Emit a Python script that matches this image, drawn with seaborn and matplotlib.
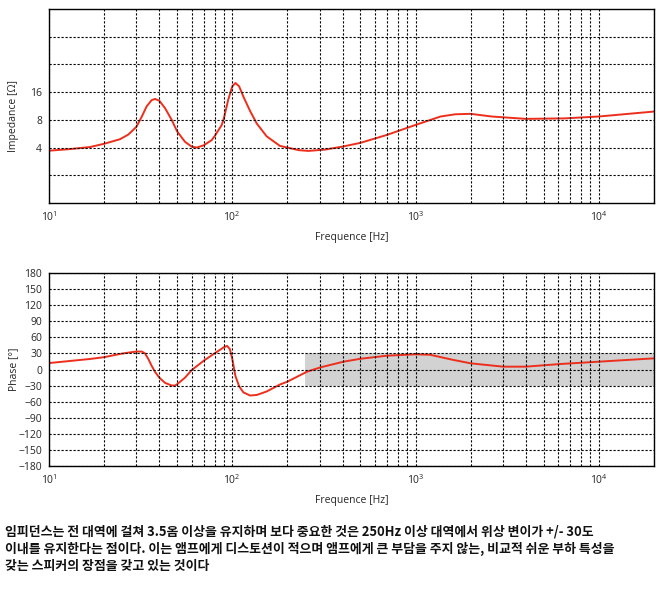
import numpy as np
import pandas as pd
import matplotlib
matplotlib.use("Agg")
import matplotlib.pyplot as plt
from matplotlib.ticker import LogLocator, FixedLocator, FixedFormatter, NullFormatter
import seaborn as sns

# ---- data ----
imp_freq = [10, 13, 16.7, 20, 24.4, 27.1, 30, 32.1, 34.1, 36.3, 37.9, 40, 43, 46.7, 50, 55.2,
            60, 64, 70, 77.2, 80, 87.5, 90, 95, 100, 104, 109, 115, 125, 136, 154, 182, 200,
            230, 260, 320, 400, 500, 700, 870, 1000, 1370, 1650, 2000, 2600, 4000, 6500,
            10000, 20000]
imp_ohm = [3.7, 3.85, 4.05, 4.4, 4.93, 5.54, 6.73, 8.7, 11.2, 13.1, 13.5, 12.9, 10.7, 8.0, 6.0,
           4.62, 4.1, 4.0, 4.24, 4.82, 5.3, 7.0, 8.3, 13.2, 18.5, 20.1, 18.5, 14.3, 10.0, 7.3,
           5.3, 4.17, 4.0, 3.75, 3.68, 3.8, 4.1, 4.5, 5.5, 6.4, 7.05, 8.7, 9.2, 9.3, 8.7, 8.2,
           8.3, 8.7, 9.85]

ph_freq = [10, 16.7, 20, 24.4, 27.1, 30, 32.1, 33.4, 34.8, 36.3, 37.9, 40, 43, 46.7, 48.7, 50,
           55.2, 60, 70, 80, 90, 93.7, 97, 100, 104, 109, 115, 125, 136, 154, 182, 200, 256,
           303, 405, 500, 700, 1000, 1200, 1600, 2000, 3000, 4000, 6200, 10000, 20000]
ph_deg = [12, 19.6, 23, 29, 31.5, 33.5, 33.5, 30, 19.8, 7, -4.5, -15.3, -25, -29.8, -30, -27.5,
          -15.3, -1.3, 16.6, 30, 41.5, 44, 38, 19.8, -12, -31.3, -42.7, -48.5, -47.5, -41,
          -28, -22.7, -4, 4, 14.6, 20, 25.8, 28.3, 27.5, 18, 11.5, 5.3, 5.3, 10.3, 14.6, 20.8]

imp_grid = [2, 4, 8, 16, 32, 64]
imp_tick_labels = ["", "4", "8", "16", "", ""]
ph_ticks = list(range(-180, 181, 30))
band_freq = [250, 20000]
band_deg = [-30, 30]

# ---- style ----
sns.set_style("white")
plt.rcParams['font.family'] = ['Open Sans', 'DejaVu Sans']
plt.rcParams['mathtext.default'] = 'regular'

RED = '#ee2e1c'
GRID = dict(color='black', linestyle=(0, (2, 1.6)), linewidth=0.8)

fig = plt.figure(figsize=(6.70, 5.94), dpi=100)
ax1 = fig.add_axes([49/670, 1-203/594, 605/670, 194/594])
ax2 = fig.add_axes([49/670, 1-466/594, 605/670, 193/594])

df_imp = pd.DataFrame({"f": imp_freq, "z": imp_ohm})
df_ph = pd.DataFrame({"f": ph_freq, "p": ph_deg})

sns.lineplot(data=df_imp, x="f", y="z", ax=ax1, color=RED, linewidth=1.4, estimator=None)
sns.lineplot(data=df_ph, x="f", y="p", ax=ax2, color=RED, linewidth=1.4, estimator=None)

ax2.fill_between(band_freq, band_deg[0], band_deg[1], color='#d2d2d2', linewidth=0, zorder=0)

for ax in (ax1, ax2):
    ax.set_xscale('log')
    ax.set_xlim(10, 20000)
    ax.xaxis.set_major_locator(LogLocator(base=10, numticks=10))
    ax.xaxis.set_minor_locator(LogLocator(base=10, subs=np.arange(2, 10), numticks=100))
    ax.xaxis.set_minor_formatter(NullFormatter())
    ax.grid(True, which='both', axis='x', **GRID)
    ax.grid(True, which='major', axis='y', **GRID)
    ax.set_axisbelow(False)
    ax.tick_params(which='both', length=0, labelsize=7.5, pad=5)
    for s in ax.spines.values():
        s.set_color('black')
        s.set_linewidth(1.0)
    ax.set_xlabel("Frequence [Hz]", fontsize=7.5, labelpad=6)

ax1.set_yscale('log', base=2)
ax1.set_ylim(1, 128)
ax1.yaxis.set_major_locator(FixedLocator(imp_grid))
ax1.yaxis.set_major_formatter(FixedFormatter(imp_tick_labels))
ax1.yaxis.set_minor_locator(FixedLocator([]))
ax1.set_ylabel("Impedance [Ω]", fontsize=7.5)
ax1.yaxis.set_label_coords(-0.0496, 0.45)

ax2.set_ylim(-180, 180)
ax2.set_yticks(ph_ticks)
ax2.set_ylabel("Phase [°]", fontsize=7.5)
ax2.yaxis.set_label_coords(-0.0496, 0.5)

text_lines = [
    "임피던스는 전 대역에 걸쳐 3.5옴 이상을 유지하며 보다 중요한 것은 250Hz 이상 대역에서 위상 변이가 +/- 30도",
    "이내를 유지한다는 점이다. 이는 앰프에게 디스토션이 적으며 앰프에게 큰 부담을 주지 않는, 비교적 쉬운 부하 특성을",
    "갖는 스피커의 장점을 갖고 있는 것이다",
]
for i, t in enumerate(text_lines):
    fig.text(5/670, 1 - (531 + i*17.6)/594, t, fontsize=9.3, fontweight='bold',
             family=['Noto Sans CJK KR', 'DejaVu Sans'], va='center', ha='left', color='#111111')

fig.savefig("out.png", dpi=100)
